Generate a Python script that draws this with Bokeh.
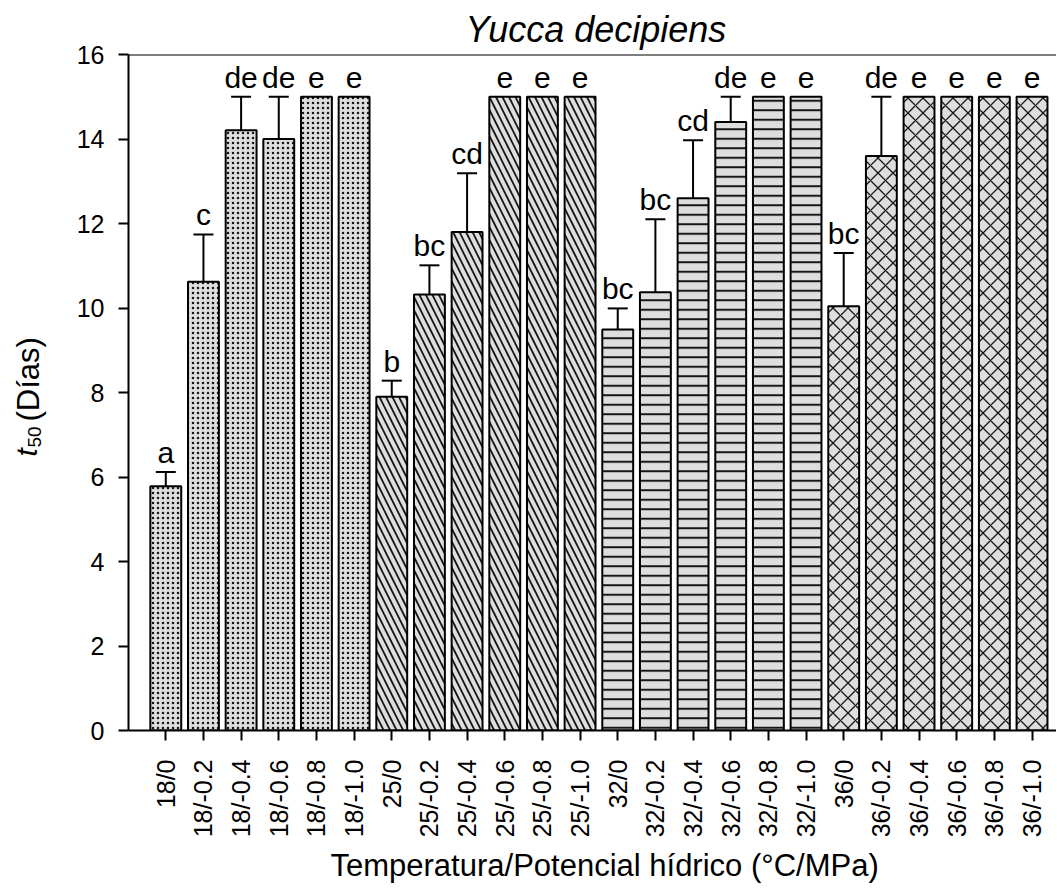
import math
from bokeh.plotting import figure
from bokeh.layouts import row
from bokeh.models import (ColumnDataSource, Range1d, FixedTicker, Whisker, TeeHead,
                          LabelSet, Label, Span, Title)
from bokeh.embed import file_html
from bokeh.resources import INLINE
from bokeh.core.properties import value

# ---------------- data ----------------
labels = ["18/0", "18/-0.2", "18/-0.4", "18/-0.6", "18/-0.8", "18/-1.0",
          "25/0", "25/-0.2", "25/-0.4", "25/-0.6", "25/-0.8", "25/-1.0",
          "32/0", "32/-0.2", "32/-0.4", "32/-0.6", "32/-0.8", "32/-1.0",
          "36/0", "36/-0.2", "36/-0.4", "36/-0.6", "36/-0.8", "36/-1.0"]
t50 = [5.78, 10.62, 14.21, 14.0, 15.0, 15.0,
       7.9, 10.32, 11.8, 15.0, 15.0, 15.0,
       9.49, 10.37, 12.6, 14.4, 15.0, 15.0,
       10.04, 13.6, 15.0, 15.0, 15.0, 15.0]
se = [0.34, 1.12, 0.79, 1.0, 0.0, 0.0,
      0.38, 0.69, 1.39, 0.0, 0.0, 0.0,
      0.5, 1.73, 1.37, 0.6, 0.0, 0.0,
      1.26, 1.4, 0.0, 0.0, 0.0, 0.0]
letters = ["a", "c", "de", "de", "e", "e",
           "b", "bc", "cd", "e", "e", "e",
           "bc", "bc", "cd", "de", "e", "e",
           "bc", "de", "e", "e", "e", "e"]
y_ticks = [0, 2, 4, 6, 8, 10, 12, 14, 16]

title_text = "Yucca decipiens"
xlabel_text = "Temperatura/Potencial hídrico (°C/MPa)"
ylabel_var, ylabel_sub, ylabel_unit = "t", "50", "(Días)"

# hatch style per temperature group: pattern, scale, weight
hatch_style = {
    "18": ("dot", 5.0, 1.4),
    "25": ("left_diagonal_line", 13.0, 1.8),
    "32": ("horizontal_line", 9.5, 2.0),
    "36": ("diagonal_cross", 15.0, 1.3),
}

FONT = "Liberation Sans"

# ---------------- layout ----------------
TW, H = 1056, 890       # total page size
LW = 60                 # strip for the y-axis title
W = TW - LW
TOP, BOT = 54, 730      # frame top / bottom in page pixels
FL, FT, FB = 128 - LW, TOP, H - BOT
X0, X1 = -0.99, 23.65
Y0, Y1 = 0, 16

p = figure(width=W, height=H, x_range=Range1d(X0, X1), y_range=Range1d(Y0, Y1),
           output_backend="svg", toolbar_location=None,
           min_border_left=FL, min_border_right=0, min_border_top=FT,
           min_border_bottom=FB)
p.outline_line_color = None
p.xgrid.visible = False
p.ygrid.visible = False

xs = list(range(len(labels)))
groups = [lab.split("/")[0] for lab in labels]
src = ColumnDataSource(dict(
    x=xs, top=t50, letters=letters,
    ytop=[t + e for t, e in zip(t50, se)],
    hatch=[hatch_style[g][0] for g in groups],
    hs=[hatch_style[g][1] for g in groups],
    hw=[hatch_style[g][2] for g in groups],
))

p.vbar(x="x", top="top", bottom=0, width=0.82, source=src,
       fill_color="#dedede", line_color="black", line_width=2,
       hatch_pattern="hatch", hatch_scale="hs", hatch_weight="hw",
       hatch_color="black", hatch_alpha=0.9)

ei = [i for i in xs if se[i] > 0]
err_src = ColumnDataSource(dict(
    x=[xs[i] for i in ei],
    lower=[t50[i] for i in ei],
    upper=[t50[i] + se[i] for i in ei],
))
p.add_layout(Whisker(source=err_src, base="x", lower="lower", upper="upper",
                     dimension="height", line_color="black", line_width=2,
                     upper_head=TeeHead(size=20, line_width=2, line_color="black"),
                     lower_head=None, level="overlay"))

p.add_layout(LabelSet(x="x", y="ytop", text="letters", source=src, y_offset=9,
                      text_align="center", text_baseline="alphabetic",
                      text_font=value(FONT), text_font_size="30px",
                      text_color="black"))

# top frame line
p.add_layout(Span(location=Y1, dimension="width", line_color="black", line_width=2))

# axes
p.xaxis.ticker = FixedTicker(ticks=xs)
p.xaxis.major_label_overrides = {i: lab for i, lab in zip(xs, labels)}
p.xaxis.major_label_orientation = math.pi / 2
p.yaxis.ticker = FixedTicker(ticks=y_ticks)
for ax in (p.xaxis, p.yaxis):
    ax.axis_line_width = 2
    ax.axis_line_color = "black"
    ax.major_tick_line_width = 2
    ax.major_tick_line_color = "black"
    ax.major_tick_out = 10
    ax.major_tick_in = 0
    ax.minor_tick_line_color = None
    ax.major_label_text_font = FONT
    ax.major_label_text_font_size = "25px"
    ax.major_label_text_color = "black"
p.xaxis.major_label_standoff = 19
p.yaxis.major_label_standoff = 14

# chart title (above) and x-axis title (below)
p.title = Title(text=title_text, text_font=FONT, text_font_style="italic",
                text_font_size="36px", text_color="black", align="left",
                offset=337, standoff=10)
p.add_layout(Title(text=xlabel_text, text_font=FONT, text_font_style="normal",
                   text_font_size="31px", text_color="black", align="left",
                   offset=202, standoff=10), "below")

# y-axis title in a narrow strip on the left; its frame is aligned with the
# main plot's frame, so its y range is expressed in page pixels (top-down)
q = figure(width=LW, height=H, x_range=Range1d(0, LW), y_range=Range1d(BOT, TOP),
           output_backend="svg", toolbar_location=None,
           x_axis_location=None, y_axis_location=None,
           min_border=0, min_border_left=0, min_border_right=0,
           min_border_top=0, min_border_bottom=0)
q.grid.visible = False
q.outline_line_color = None
ang = math.pi / 2
q.add_layout(Label(x=26, y=456, text=ylabel_var, text_font=FONT,
                   text_font_style="italic", text_font_size="30px", angle=ang,
                   text_color="black", text_align="left", text_baseline="alphabetic"))
q.add_layout(Label(x=34, y=447, text=ylabel_sub, text_font=FONT,
                   text_font_size="19px", angle=ang, text_color="black",
                   text_align="left", text_baseline="alphabetic"))
q.add_layout(Label(x=28, y=421, text=ylabel_unit, text_font=FONT,
                   text_font_size="31px", angle=ang, text_color="black",
                   text_align="left", text_baseline="alphabetic"))

layout = row(q, p, spacing=0)
open("out.html", "w").write(file_html(layout, INLINE))
